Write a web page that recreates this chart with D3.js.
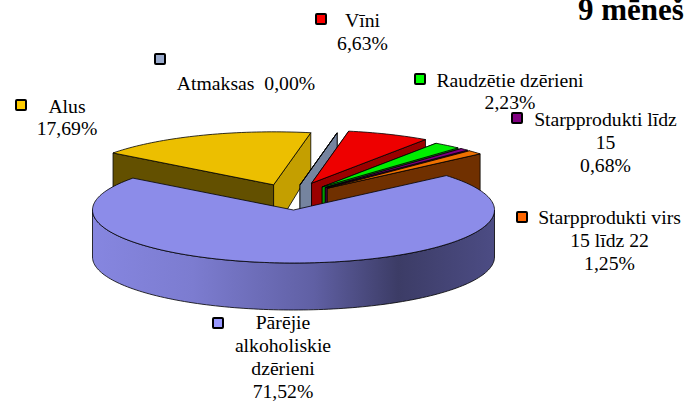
<!DOCTYPE html>
<html>
<head>
<meta charset="utf-8">
<script src="https://cdnjs.cloudflare.com/ajax/libs/d3/7.8.5/d3.min.js"></script>
<style>
  html, body { margin: 0; padding: 0; background: #fff; overflow: hidden; }
  text { font-family: "Liberation Serif", serif; font-size: 19.7px; fill: #000; }
</style>
</head>
<body>
<div id="chart"></div>
<script>
// Data, clockwise from the first slice
const categories = ['Pārējie alkoholiskie dzērieni', 'Alus', 'Atmaksas', 'Vīni', 'Raudzētie dzērieni', 'Starpprodukti līdz 15', 'Starpprodukti virs 15 līdz 22'];
const shares = [71.52, 17.69, 0.00, 6.63, 2.23, 0.68, 1.25];
const titleText = '9 mēneš';

// Colours by slice
const topColors = ['#8c8ce9', '#ecbf00', '#8899bb', '#ee0000', '#00ee00', '#800080', '#ee7000'];
const wallColors = ['#8c8ce9', '#c49f00', '#75849f', '#9b0000', '#009b00', '#500050', '#703000'];
const startColors = ['#8c8ce9', '#635000', '#75849f', '#9b0000', '#009b00', '#500050', '#703000'];
const swatchColors = ['#9999ff', '#ffcc00', '#99aacc', '#ff0000', '#00ff00', '#800080', '#ff6600'];

const width = 685, height = 401;
const cx = 293.5, cy = 210, rx = 201, ry = 53;
const depth = 47, farDepth = 38;   // perspective: the far corners are shorter

// How far each slice is pulled out of the pie
const explodeX = [0, 55, 35, 47, 46, 46, 46];
const explodeY = [0, 27, 25.5, 29, 29.5, 31, 32];

const svg = d3.select('#chart').append('svg')
  .attr('width', width)
  .attr('height', height);

// Gradient on the outer wall of the big slice
const grad = svg.append('defs').append('linearGradient')
  .attr('id', 'rim')
  .attr('gradientUnits', 'userSpaceOnUse')
  .attr('x1', cx - rx).attr('x2', cx + rx)
  .attr('y1', 0).attr('y2', 0);
grad.selectAll('stop')
  .data([[0, '#8686e0'], [0.25, '#7c7cd0'], [0.55, '#6060a4'], [0.76, '#3c3c66'], [1, '#4c4c84']])
  .join('stop')
  .attr('offset', d => d[0])
  .attr('stop-color', d => d[1]);

const pie = d3.pie().sort(null)
  .startAngle(49.5 * Math.PI / 180)
  .endAngle(409.5 * Math.PI / 180);
const arcs = pie(shares);

// Ellipse projection: angle is clockwise from straight up
const px = (a, ox) => ox + rx * Math.sin(a);
const py = (a, oy) => oy - ry * Math.cos(a);

function offset(d, i) {
  const mid = (d.startAngle + d.endAngle) / 2;
  return [cx + explodeX[i] * Math.sin(mid), cy - explodeY[i] * Math.cos(mid)];
}

function rimPoints(d, o, dy) {
  const n = Math.max(2, Math.ceil((d.endAngle - d.startAngle) * 40));
  return d3.range(n + 1).map(k => {
    const a = d.startAngle + (d.endAngle - d.startAngle) * k / n;
    return [px(a, o[0]), py(a, o[1]) + dy];
  });
}

const line = d3.line();
const pieG = svg.append('g').attr('stroke', '#000').attr('stroke-width', 0.8).attr('stroke-linejoin', 'round');

// Draw back to front, the big slice last
[1, 2, 3, 4, 5, 6, 0].forEach(i => {
  const d = arcs[i];
  const o = offset(d, i);
  const rim = rimPoints(d, o, 0);
  const first = rim[0], last = rim[rim.length - 1];

  if (i === 0) {
    // front wall only, between the left and right extremes
    const front = { startAngle: Math.PI / 2, endAngle: 3 * Math.PI / 2 };
    const upper = rimPoints(front, o, 0);
    const lower = rimPoints(front, o, depth).reverse();
    pieG.append('path').attr('d', line(upper.concat(lower)) + 'Z').attr('fill', 'url(#rim)');
  } else {
    // start face
    pieG.append('path')
      .attr('d', line([o, first, [first[0], first[1] + farDepth], [o[0], o[1] + depth]]) + 'Z')
      .attr('fill', startColors[i]);
    // end face
    pieG.append('path')
      .attr('d', line([o, last, [last[0], last[1] + farDepth], [o[0], o[1] + depth]]) + 'Z')
      .attr('fill', wallColors[i]);
  }
  // top surface
  pieG.append('path')
    .attr('d', line([o].concat(rim)) + 'Z')
    .attr('fill', topColors[i]);
});

// Labels, one line per row
const labelRows = [
  ['Pārējie', 'alkoholiskie', 'dzērieni', '71,52%'],
  ['Alus', '17,69%'],
  ['Atmaksas  0,00%'],
  ['Vīni', '6,63%'],
  ['Raudzētie dzērieni', '2,23%'],
  ['Starpprodukti līdz', '15', '0,68%'],
  ['Starpprodukti virs', '15 līdz 22', '1,25%']
];
const labelCentre = [283, 67, 246, 362.5, 510, 605.5, 609.5];
const labelTop = [329, 113, 90, 27, 87, 126, 224];
const labelStep = [23, 22, 0, 23, 22, 23, 23];
const swatchPos = [[218, 323], [21, 105], [160, 59], [321, 19], [420, 79], [517, 118], [522, 217]];

const labels = svg.append('g');
labelRows.forEach((rows, i) => {
  labels.append('g').selectAll('text')
    .data(rows)
    .join('text')
    .attr('x', labelCentre[i])
    .attr('y', (r, k) => labelTop[i] + k * labelStep[i])
    .attr('text-anchor', 'middle')
    .style('white-space', 'pre')
    .text(r => r);
  labels.append('rect')
    .attr('x', swatchPos[i][0] - 5).attr('y', swatchPos[i][1] - 5)
    .attr('width', 10).attr('height', 10)
    .attr('rx', 1)
    .attr('fill', swatchColors[i])
    .attr('stroke', '#000')
    .attr('stroke-width', 2);
});

svg.append('text')
  .attr('x', 578)
  .attr('y', 20)
  .style('font-size', '31px')
  .style('font-weight', 'bold')
  .text(titleText);
</script>
</body>
</html>
